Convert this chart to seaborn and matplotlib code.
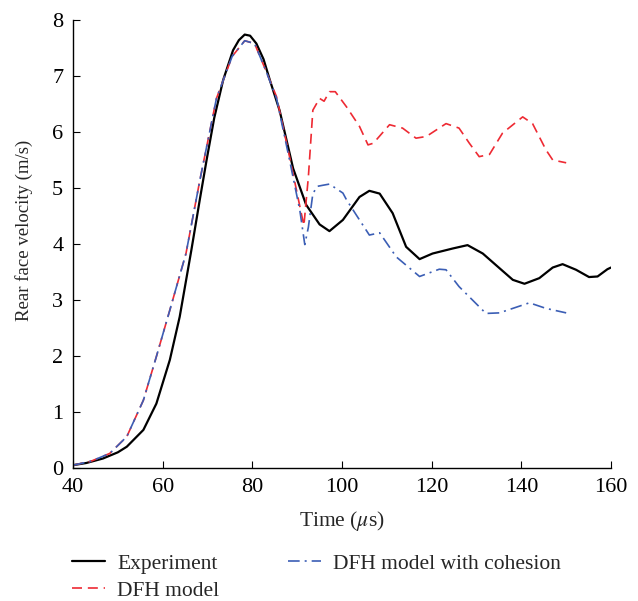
import matplotlib.pyplot as plt
import seaborn as sns

# values
t_exp = [40, 43, 46.7, 50, 52, 55.7, 58.6, 61.6, 63.8, 66.4, 68.3, 69.8, 71.5, 73.5, 75.7, 77, 78.3,
         79.5, 80.9, 82.5, 83.9, 86.1, 89.1, 92, 95, 97.2, 100.2, 103.9, 106.1, 108.4, 111.3,
         114.3, 117.3, 120.2, 124.7, 128, 131.4, 135.1, 138.1, 140.7, 144, 147, 149.2, 152.2,
         155.1, 157, 159.2, 160]
v_exp = [0.05, 0.09, 0.17, 0.28, 0.38, 0.68, 1.15, 1.93, 2.7, 3.89, 4.8, 5.5, 6.25, 6.93, 7.46, 7.64,
         7.74, 7.72, 7.58, 7.3, 6.93, 6.38, 5.35, 4.7, 4.35, 4.23, 4.43, 4.84, 4.95, 4.9, 4.55,
         3.95, 3.73, 3.83, 3.92, 3.98, 3.83, 3.57, 3.36, 3.29, 3.39, 3.58, 3.64, 3.54, 3.41, 3.42,
         3.55, 3.58]

t_dfh = [40, 44, 48.2, 52, 55.7, 58.6, 61.6, 65.2, 68.3, 72, 75.5, 78.3, 80.5, 83, 85.4, 88.3,
         90.6, 91.5, 92.5, 93.5, 95, 96, 97.2, 98.5, 101, 103.9, 105.8, 107, 110.6, 113.5, 116.5,
         118.8, 123.2, 126.1, 128.4, 130.6, 132.9, 135.8, 140.3, 142.5, 145.5, 147, 150]
v_dfh = [0.05, 0.12, 0.26, 0.56, 1.21, 1.99, 2.82, 3.83, 5.14, 6.6, 7.35, 7.63, 7.58, 7.1, 6.63, 5.56,
         4.67, 4.33, 5.2, 6.39, 6.6, 6.55, 6.72, 6.72, 6.45, 6.1, 5.77, 5.8, 6.13, 6.07, 5.89,
         5.92, 6.15, 6.07, 5.8, 5.56, 5.6, 5.98, 6.27, 6.15, 5.68, 5.5, 5.45]

t_coh = [40, 44, 48.2, 52, 55.7, 58.6, 61.6, 65.2, 68.3, 72, 75.5, 78.3, 80.5, 83, 85.4, 88.3,
         90.6, 91.7, 92.5, 93.5, 94.5, 95.8, 97.2, 100.2, 101, 103.9, 106.1, 108.4, 112.1, 117.3,
         121.7, 123.2, 126.1, 129.1, 132.1, 135.1, 141.8, 145.5, 150]
v_coh = [0.05, 0.12, 0.26, 0.56, 1.21, 1.99, 2.82, 3.83, 5.14, 6.6, 7.35, 7.63, 7.58, 7.1, 6.6, 5.5,
         4.6, 3.99, 4.3, 4.9, 5.03, 5.05, 5.07, 4.91, 4.79, 4.43, 4.16, 4.2, 3.77, 3.42,
         3.55, 3.54, 3.24, 3.0, 2.76, 2.77, 2.95, 2.85, 2.77]

sns.set_style("ticks")
plt.rcParams['font.family'] = ['Liberation Serif', 'DejaVu Serif']
plt.rcParams['mathtext.fontset'] = 'stix'

fig = plt.figure(figsize=(6.38, 6.01), dpi=100)
ax = fig.add_axes([0.1144, 0.2213, 0.8433, 0.7454])

sns.lineplot(x=t_exp, y=v_exp, ax=ax, color="black", lw=1.6, label="Experiment")
sns.lineplot(x=t_dfh, y=v_dfh, ax=ax, color="#ee2a33", lw=1.2, label="DFH model")
sns.lineplot(x=t_coh, y=v_coh, ax=ax, color="#3b5eb5", lw=1.2, label="DFH model with cohesion")
ax.lines[1].set_dashes((6, 3.5))
ax.lines[2].set_dashes((7, 3, 1.2, 3))

ax.set_xlim(40, 160)
ax.set_ylim(0, 8)
ax.set_xticks(range(40, 161, 20))
ax.set_yticks(range(0, 9))
ax.tick_params(direction="in", length=5, labelsize=16, colors="black", pad=7)
sns.despine(ax=ax)
for s in ["left", "bottom"]:
    ax.spines[s].set_color("black")
    ax.spines[s].set_linewidth(1.0)
ax.set_xlabel(r"Time ($\mu$s)", fontsize=15.5)
ax.set_ylabel("Rear face velocity (m/s)", fontsize=13.5)
ax.xaxis.set_label_coords(0.5, -0.092)
ax.yaxis.set_label_coords(-0.074, 0.53)

handles, labels = ax.get_legend_handles_labels()
ax.get_legend().remove()
fig.legend(handles, labels, ncol=2, frameon=False, fontsize=15.5,
           loc="upper left", bbox_to_anchor=(0.099, 0.093), handlelength=1.55,
           handletextpad=0.55, columnspacing=3.2, labelspacing=0.33, borderaxespad=0)

fig.savefig("out.png", dpi=100)
